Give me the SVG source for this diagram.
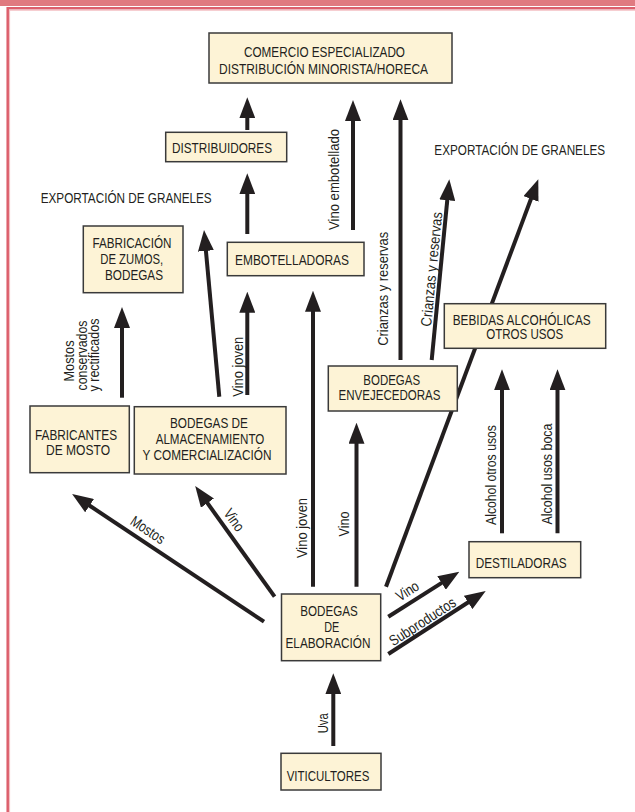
<svg xmlns="http://www.w3.org/2000/svg" width="635" height="812" viewBox="0 0 635 812">
<style>
.bx{fill:#fdf3d6;stroke:#3a3a3a;stroke-width:1.5}
.t{font-family:"Liberation Sans Narrow","Liberation Sans",Arial,sans-serif;font-size:15px;fill:#231f20;text-anchor:middle}
.c{fill:none;stroke:#231f20;stroke-width:4;marker-end:url(#ah)}
</style>
<defs>
<marker id="ah" markerUnits="userSpaceOnUse" markerWidth="21" markerHeight="16" refX="3" refY="8" orient="auto">
<path d="M0,0 L21,8 L0,16 z" fill="#231f20"/>
</marker>
</defs>
<rect width="635" height="812" fill="#ffffff"/>
<g id="frame">
<rect x="0" y="0" width="635" height="6" fill="#e07a80"/>
<path d="M6.5,8.3 H635 M7.7,7 V812" fill="none" stroke="#dc5f6c" stroke-width="2.5"/>
<path d="M9.6,10.2 H635 M9.6,10 V812" fill="none" stroke="#f2b9bd" stroke-width="1"/>
</g>
<g id="connectors">
<path class="c" d="M247.3,130 V115.3"/>
<path class="c" d="M247.3,234 V191.3"/>
<path class="c" d="M353,230 V118"/>
<path class="c" d="M400.5,360 V117.3"/>
<path class="c" d="M431.7,360 L447.56,197.21"/>
<path class="c" d="M386,586.7 L532,196.16"/>
<path class="c" d="M219.3,396.7 L205.65,247.92"/>
<path class="c" d="M247.3,395 V309.7"/>
<path class="c" d="M122,397.7 V325"/>
<path class="c" d="M313,586.7 V308.7"/>
<path class="c" d="M356.5,586.7 V440.7"/>
<path class="c" d="M264,621.7 L87.09,503.97"/>
<path class="c" d="M274.6,596.7 L205.69,500.63"/>
<path class="c" d="M388.3,616.7 L444.1,581.34"/>
<path class="c" d="M388.3,654 L470.59,600.78"/>
<path class="c" d="M502,533.3 V387.3"/>
<path class="c" d="M557.5,533.3 V387.3"/>
<path class="c" d="M333.3,746 V691.3"/>
</g>
<g id="labels">
<text class="t" transform="translate(339.3,179.5) rotate(-90)" textLength="101" lengthAdjust="spacingAndGlyphs">Vino embotellado</text>
<text class="t" transform="translate(387.7,288.8) rotate(-90)" textLength="114" lengthAdjust="spacingAndGlyphs">Crianzas y reservas</text>
<text class="t" transform="translate(431.7,269.2) rotate(-84.4)" y="5" textLength="115" lengthAdjust="spacingAndGlyphs">Crianzas y reservas</text>
<text class="t" transform="translate(242.7,366.7) rotate(-90)" textLength="60" lengthAdjust="spacingAndGlyphs">Vino joven</text>
<text class="t" transform="translate(306.5,528) rotate(-90)" textLength="60" lengthAdjust="spacingAndGlyphs">Vino joven</text>
<text class="t" transform="translate(349.3,524) rotate(-90)" textLength="25" lengthAdjust="spacingAndGlyphs">Vino</text>
<text class="t" transform="translate(496.3,475) rotate(-90)" textLength="100" lengthAdjust="spacingAndGlyphs">Alcohol otros usos</text>
<text class="t" transform="translate(551.5,474) rotate(-90)" textLength="101" lengthAdjust="spacingAndGlyphs">Alcohol usos boca</text>
<text class="t" transform="translate(327.5,723.3) rotate(-90)" textLength="20" lengthAdjust="spacingAndGlyphs">Uva</text>
<text class="t" transform="translate(73.5,361) rotate(-90)" textLength="41" lengthAdjust="spacingAndGlyphs">Mostos</text>
<text class="t" transform="translate(86.5,355.5) rotate(-90)" textLength="70" lengthAdjust="spacingAndGlyphs">conservados</text>
<text class="t" transform="translate(99.3,355) rotate(-90)" textLength="73" lengthAdjust="spacingAndGlyphs">y rectificados</text>
<text class="t" transform="translate(147.8,530) rotate(33.6)" y="5" textLength="38" lengthAdjust="spacingAndGlyphs">Mostos</text>
<text class="t" transform="translate(234,520) rotate(54.4)" y="5" textLength="24" lengthAdjust="spacingAndGlyphs">Vino</text>
<text class="t" transform="translate(407.5,591) rotate(-32.4)" y="5" textLength="24" lengthAdjust="spacingAndGlyphs">Vino</text>
<text class="t" transform="translate(422.5,621.7) rotate(-33)" y="5" textLength="76" lengthAdjust="spacingAndGlyphs">Subproductos</text>
<text class="t" x="126.2" y="203.3" textLength="171" lengthAdjust="spacingAndGlyphs">EXPORTACIÓN DE GRANELES</text>
<text class="t" x="519.7" y="155.3" textLength="170.7" lengthAdjust="spacingAndGlyphs">EXPORTACIÓN DE GRANELES</text>
</g>
<g id="comercio">
<rect class="bx" x="209" y="33" width="243" height="50"/>
<text class="t" x="324.5" y="57" textLength="161" lengthAdjust="spacingAndGlyphs">COMERCIO ESPECIALIZADO</text>
<text class="t" x="323.5" y="73.6" textLength="209" lengthAdjust="spacingAndGlyphs">DISTRIBUCIÓN MINORISTA/HORECA</text>
</g>
<g id="distribuidores">
<rect class="bx" x="165.7" y="132.3" width="121" height="29.4"/>
<text class="t" x="222" y="152.7" textLength="100" lengthAdjust="spacingAndGlyphs">DISTRIBUIDORES</text>
</g>
<g id="embotelladoras">
<rect class="bx" x="227.3" y="242.3" width="136.7" height="33.4"/>
<text class="t" x="292" y="265" textLength="114" lengthAdjust="spacingAndGlyphs">EMBOTELLADORAS</text>
</g>
<g id="fabricacion">
<rect class="bx" x="83.3" y="226" width="99.7" height="66.7"/>
<text class="t" x="132" y="248" textLength="79" lengthAdjust="spacingAndGlyphs">FABRICACIÓN</text>
<text class="t" x="131.7" y="263.6" textLength="63" lengthAdjust="spacingAndGlyphs">DE ZUMOS,</text>
<text class="t" x="134" y="279.6" textLength="58" lengthAdjust="spacingAndGlyphs">BODEGAS</text>
</g>
<g id="fabricantes">
<rect class="bx" x="30" y="406" width="99.3" height="66.7"/>
<text class="t" x="76" y="440.3" textLength="82" lengthAdjust="spacingAndGlyphs">FABRICANTES</text>
<text class="t" x="78" y="455.3" textLength="64" lengthAdjust="spacingAndGlyphs">DE MOSTO</text>
</g>
<g id="almacenamiento">
<rect class="bx" x="134.3" y="406.7" width="151.7" height="67.3"/>
<text class="t" x="209" y="428" textLength="78" lengthAdjust="spacingAndGlyphs">BODEGAS DE</text>
<text class="t" x="210" y="443.6" textLength="108.7" lengthAdjust="spacingAndGlyphs">ALMACENAMIENTO</text>
<text class="t" x="207" y="459.6" textLength="129" lengthAdjust="spacingAndGlyphs">Y COMERCIALIZACIÓN</text>
</g>
<g id="envejecedoras">
<rect class="bx" x="328.3" y="366" width="129" height="45"/>
<text class="t" x="391.7" y="384.6" textLength="56.7" lengthAdjust="spacingAndGlyphs">BODEGAS</text>
<text class="t" x="389.5" y="400.3" textLength="102" lengthAdjust="spacingAndGlyphs">ENVEJECEDORAS</text>
</g>
<g id="bebidas">
<rect class="bx" x="444.3" y="303.7" width="161.4" height="44.6"/>
<text class="t" x="521.7" y="324.6" textLength="138" lengthAdjust="spacingAndGlyphs">BEBIDAS ALCOHÓLICAS</text>
<text class="t" x="524.7" y="339.3" textLength="77" lengthAdjust="spacingAndGlyphs">OTROS USOS</text>
</g>
<g id="destiladoras">
<rect class="bx" x="469" y="541.7" width="111.7" height="36"/>
<text class="t" x="521.2" y="568.3" textLength="91" lengthAdjust="spacingAndGlyphs">DESTILADORAS</text>
</g>
<g id="elaboracion">
<rect class="bx" x="281.5" y="594" width="99.2" height="66.7"/>
<text class="t" x="329" y="616" textLength="57.5" lengthAdjust="spacingAndGlyphs">BODEGAS</text>
<text class="t" x="331.7" y="632" textLength="15" lengthAdjust="spacingAndGlyphs">DE</text>
<text class="t" x="328" y="648" textLength="85" lengthAdjust="spacingAndGlyphs">ELABORACIÓN</text>
</g>
<g id="viticultores">
<rect class="bx" x="281" y="753.3" width="100" height="36.7"/>
<text class="t" x="328" y="781" textLength="82.7" lengthAdjust="spacingAndGlyphs">VITICULTORES</text>
</g>
</svg>
